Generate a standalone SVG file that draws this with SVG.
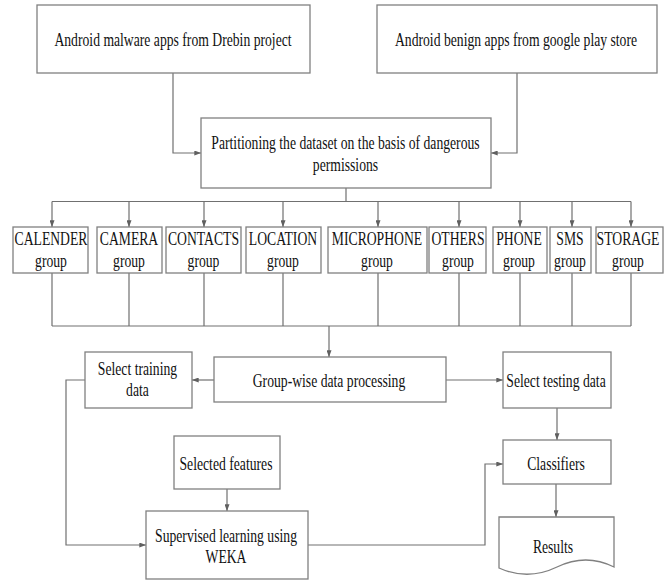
<svg xmlns="http://www.w3.org/2000/svg" width="664" height="580" viewBox="0 0 664 580">
<style>
.box{fill:#fff;stroke:#808080;stroke-width:1.3}
.ln{fill:none;stroke:#707070;stroke-width:1.2}
.ar{fill:none;stroke:#707070;stroke-width:1.2;marker-end:url(#ah)}
.t{font-family:'Liberation Serif',serif;font-size:18px;fill:#111;text-anchor:middle}
</style>
<defs>
<marker id="ah" viewBox="0 0 8 6" refX="8" refY="3" markerWidth="7" markerHeight="5" markerUnits="userSpaceOnUse" orient="auto">
<path d="M0,0 L8,3 L0,6 Z" fill="#606060"/>
</marker>
</defs>
<rect width="664" height="580" fill="#fff"/>
<g id="connectors">
<path class="ar" d="M173,73 V153 H201"/>
<path class="ar" d="M517,73 V153 H491"/>
<path class="ln" d="M346,188 V201.5 M52,201.5 H631"/>
<path class="ar" d="M52,201.5 V227"/>
<path class="ar" d="M129,201.5 V227"/>
<path class="ar" d="M204,201.5 V227"/>
<path class="ar" d="M283,201.5 V227"/>
<path class="ar" d="M378,201.5 V227"/>
<path class="ar" d="M459,201.5 V227"/>
<path class="ar" d="M520,201.5 V227"/>
<path class="ar" d="M572,201.5 V227"/>
<path class="ar" d="M631,201.5 V227"/>
<path class="ln" d="M52,273 V326 M129,273 V326 M204,273 V326 M283,273 V326 M378,273 V326 M459,273 V326 M520,273 V326 M572,273 V326 M631,273 V326 M52,326 H631"/>
<path class="ar" d="M329,326 V357"/>
<path class="ar" d="M214,380 H192"/>
<path class="ar" d="M446,380 H503"/>
<path class="ar" d="M85,380 H66 V545 H146"/>
<path class="ar" d="M227,489 V511"/>
<path class="ar" d="M308,545 H485 V464 H503"/>
<path class="ar" d="M557,408 V440"/>
<path class="ar" d="M556,484 V517"/>
</g>
<g id="n-malware"><rect class="box" x="37" y="5" width="273" height="68"/><text class="t" font-family="Liberation Serif, serif" transform="translate(173,46) scale(0.76,1)">Android malware apps from Drebin project</text></g>
<g id="n-benign"><rect class="box" x="377" y="5" width="280" height="68"/><text class="t" font-family="Liberation Serif, serif" transform="translate(516,46) scale(0.76,1)">Android benign apps from google play store</text></g>
<g id="n-partition"><rect class="box" x="201" y="118" width="290" height="70"/><text class="t" font-family="Liberation Serif, serif" transform="translate(345.5,149) scale(0.76,1)">Partitioning the dataset on the basis of dangerous</text><text class="t" font-family="Liberation Serif, serif" transform="translate(345.5,171) scale(0.76,1)">permissions</text></g>
<g id="n-calender"><rect class="box" x="13" y="227" width="75" height="46"/><text class="t" font-family="Liberation Serif, serif" transform="translate(51,245) scale(0.76,1)">CALENDER</text><text class="t" font-family="Liberation Serif, serif" transform="translate(51,267) scale(0.76,1)">group</text></g>
<g id="n-camera"><rect class="box" x="97" y="227" width="65" height="46"/><text class="t" font-family="Liberation Serif, serif" transform="translate(129,245) scale(0.76,1)">CAMERA</text><text class="t" font-family="Liberation Serif, serif" transform="translate(129,267) scale(0.76,1)">group</text></g>
<g id="n-contacts"><rect class="box" x="166" y="227" width="75" height="46"/><text class="t" font-family="Liberation Serif, serif" transform="translate(203.5,245) scale(0.76,1)">CONTACTS</text><text class="t" font-family="Liberation Serif, serif" transform="translate(203.5,267) scale(0.76,1)">group</text></g>
<g id="n-location"><rect class="box" x="246" y="227" width="75" height="46"/><text class="t" font-family="Liberation Serif, serif" transform="translate(283,245) scale(0.76,1)">LOCATION</text><text class="t" font-family="Liberation Serif, serif" transform="translate(283,267) scale(0.76,1)">group</text></g>
<g id="n-microphone"><rect class="box" x="328" y="227" width="99" height="46"/><text class="t" font-family="Liberation Serif, serif" transform="translate(377,245) scale(0.76,1)">MICROPHONE</text><text class="t" font-family="Liberation Serif, serif" transform="translate(377,267) scale(0.76,1)">group</text></g>
<g id="n-others"><rect class="box" x="429" y="227" width="57" height="46"/><text class="t" font-family="Liberation Serif, serif" transform="translate(458,245) scale(0.76,1)">OTHERS</text><text class="t" font-family="Liberation Serif, serif" transform="translate(458,267) scale(0.76,1)">group</text></g>
<g id="n-phone"><rect class="box" x="493" y="227" width="54" height="46"/><text class="t" font-family="Liberation Serif, serif" transform="translate(519,245) scale(0.76,1)">PHONE</text><text class="t" font-family="Liberation Serif, serif" transform="translate(519,267) scale(0.76,1)">group</text></g>
<g id="n-sms"><rect class="box" x="550" y="227" width="41" height="46"/><text class="t" font-family="Liberation Serif, serif" transform="translate(570,245) scale(0.76,1)">SMS</text><text class="t" font-family="Liberation Serif, serif" transform="translate(570,267) scale(0.76,1)">group</text></g>
<g id="n-storage"><rect class="box" x="596" y="227" width="67" height="46"/><text class="t" font-family="Liberation Serif, serif" transform="translate(628,245) scale(0.76,1)">STORAGE</text><text class="t" font-family="Liberation Serif, serif" transform="translate(628,267) scale(0.76,1)">group</text></g>
<g id="n-training"><rect class="box" x="85" y="352" width="107" height="56"/><text class="t" font-family="Liberation Serif, serif" transform="translate(137.5,375) scale(0.76,1)">Select training</text><text class="t" font-family="Liberation Serif, serif" transform="translate(137.5,396) scale(0.76,1)">data</text></g>
<g id="n-groupwise"><rect class="box" x="214" y="357" width="232" height="45"/><text class="t" font-family="Liberation Serif, serif" transform="translate(329,387) scale(0.76,1)">Group-wise data processing</text></g>
<g id="n-testing"><rect class="box" x="503" y="352" width="108" height="56"/><text class="t" font-family="Liberation Serif, serif" transform="translate(556,387) scale(0.76,1)">Select testing data</text></g>
<g id="n-features"><rect class="box" x="174" y="436" width="106" height="53"/><text class="t" font-family="Liberation Serif, serif" transform="translate(226,470) scale(0.76,1)">Selected features</text></g>
<g id="n-classifiers"><rect class="box" x="503" y="440" width="108" height="44"/><text class="t" font-family="Liberation Serif, serif" transform="translate(556,470) scale(0.76,1)">Classifiers</text></g>
<g id="n-supervised"><rect class="box" x="146" y="511" width="162" height="68"/><text class="t" font-family="Liberation Serif, serif" transform="translate(226,542) scale(0.76,1)">Supervised learning using</text><text class="t" font-family="Liberation Serif, serif" transform="translate(226,563) scale(0.76,1)">WEKA</text></g>
<g id="n-results"><path class="box" d="M499,517 H614 V567 Q586,553 557,567 T499,568 Z"/><text class="t" font-family="Liberation Serif, serif" transform="translate(553,553) scale(0.76,1)">Results</text></g>
</svg>
